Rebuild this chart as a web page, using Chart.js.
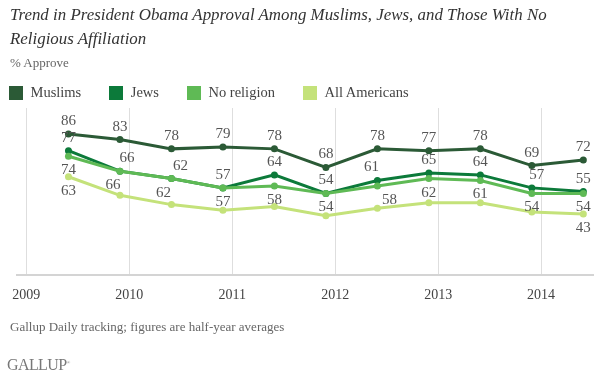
<!DOCTYPE html>
<html>
<head>
<meta charset="utf-8">
<script src="https://cdn.jsdelivr.net/npm/chart.js@4.4.1/dist/chart.umd.min.js"></script>
<style>
    body { margin: 0; background: #fff; }
    #wrap { position: relative; width: 600px; height: 377px; font-family: 'Liberation Serif', serif; overflow: hidden; }
    #chart { position: absolute; left: 0; top: 0; }
    .title { position: absolute; left: 10px; top: 3px; width: 580px; font-style: italic; font-size: 16.9px; line-height: 24px; color: #333; }
    .sub { position: absolute; left: 10px; top: 55px; font-size: 13px; color: #666; }
    .legend { position: absolute; left: 9px; top: 84px; display: flex; font-size: 14.5px; color: #444; }
    .legend .item { display: flex; align-items: center; margin-right: 28px; }
    .legend .box { width: 14px; height: 14px; margin-right: 7.5px; }
    .note { position: absolute; left: 10px; top: 319px; font-size: 13px; color: #666; }
    .logo { position: absolute; left: 7px; top: 356px; font-size: 16px; letter-spacing: -0.6px; color: #777; }
    .logo sup { font-size: 5px; }
</style>
</head>
<body>
<div id="wrap">
    <canvas id="chart" width="600" height="377"></canvas>
    <div class="title">Trend in President Obama Approval Among Muslims, Jews, and Those With No Religious Affiliation</div>
    <div class="sub">% Approve</div>
    <div class="legend" id="legend"></div>
    <div class="note">Gallup Daily tracking; figures are half-year averages</div>
    <div class="logo">GALLUP<sup>&reg;</sup></div>
</div>
<script>
// half-year averages, placed on a year axis
const periods = [2009.41, 2009.91, 2010.41, 2010.91, 2011.41, 2011.91, 2012.41, 2012.91, 2013.41, 2013.91, 2014.41];
const yearTicks = [2009, 2010, 2011, 2012, 2013, 2014];

const muslims = [86, 83, 78, 79, 78, 68, 78, 77, 78, 69, 72];
const jews = [77, 66, 62, 57, 64, 54, 61, 65, 64, 57, 55];
const noReligion = [74, 66, 62, 57, 58, 54, 58, 62, 61, 54, 54];
const allAmericans = [63, 53, 48, 45, 47, 42, 46, 49, 49, 44, 43];

const series = [
    { label: 'Muslims', data: muslims, color: '#2b5a36', order: 0, side: 'above', ends: false },
    { label: 'Jews', data: jews, color: '#0c7a3a', order: 2, side: 'above', ends: false },
    { label: 'No religion', data: noReligion, color: '#5fba55', order: 1, side: 'below', ends: false },
    { label: 'All Americans', data: allAmericans, color: '#c4e27a', order: 3, side: 'below', ends: true },
];

// sideways nudges for labels that would collide (px, by point index)
const labelNudges = {
    'Jews': { 1: 7, 2: 9, 6: -6, 9: 5 },
    'No religion': { 1: -7, 2: -8, 6: 12 },
};

// html legend
const legendEl = document.getElementById('legend');
series.forEach((s) => {
    const item = document.createElement('div');
    item.className = 'item';
    item.innerHTML = `<span class="box" style="background:${s.color}"></span><span>${s.label}</span>`;
    legendEl.appendChild(item);
});

// value labels next to the points
const valueLabels = {
    id: 'valueLabels',
    afterDatasetsDraw(chart) {
        const { ctx } = chart;
        ctx.save();
        ctx.font = '15px "Liberation Serif", serif';
        ctx.fillStyle = '#555';
        ctx.textAlign = 'center';
        ctx.textBaseline = 'middle';
        chart.data.datasets.forEach((ds, i) => {
            const meta = chart.getDatasetMeta(i);
            const last = ds.data.length - 1;
            const nudges = labelNudges[ds.label] || {};
            meta.data.forEach((pt, j) => {
                if (ds.endsOnly && j !== 0 && j !== last) {
                    return;
                }
                const dy = ds.labelSide === 'below' ? 14 : -13;
                const dx = nudges[j] || 0;
                ctx.fillText(String(ds.data[j].y), pt.x + dx, pt.y + dy);
            });
        });
        ctx.restore();
    },
};

new Chart(document.getElementById('chart'), {
    type: 'line',
    data: {
        datasets: series.map((s) => ({
            label: s.label,
            data: s.data.map((v, i) => ({ x: periods[i], y: v })),
            borderColor: s.color,
            backgroundColor: s.color,
            borderWidth: 3,
            pointRadius: 3.5,
            pointBorderWidth: 0,
            tension: 0,
            order: s.order,
            labelSide: s.side,
            endsOnly: s.ends,
        })),
    },
    options: {
        responsive: false,
        animation: false,
        layout: {
            padding: { left: 16, right: 7, top: 108, bottom: 61 },
        },
        plugins: {
            legend: { display: false },
            tooltip: { enabled: false },
        },
        scales: {
            x: {
                type: 'linear',
                min: 2008.913,
                max: 2014.504,
                afterBuildTicks: (axis) => {
                    axis.ticks = yearTicks.map((v) => ({ value: v }));
                },
                grid: {
                    color: '#dedede',
                    lineWidth: 1,
                    drawTicks: false,
                },
                border: {
                    display: true,
                    color: '#d4d4d4',
                    width: 2,
                },
                ticks: {
                    padding: 12,
                    color: '#444',
                    font: { family: '"Liberation Serif", serif', size: 14 },
                    callback: (v) => String(v),
                },
            },
            y: {
                display: false,
                min: 10,
                max: 100,
            },
        },
    },
    plugins: [valueLabels],
});
</script>
</body>
</html>
